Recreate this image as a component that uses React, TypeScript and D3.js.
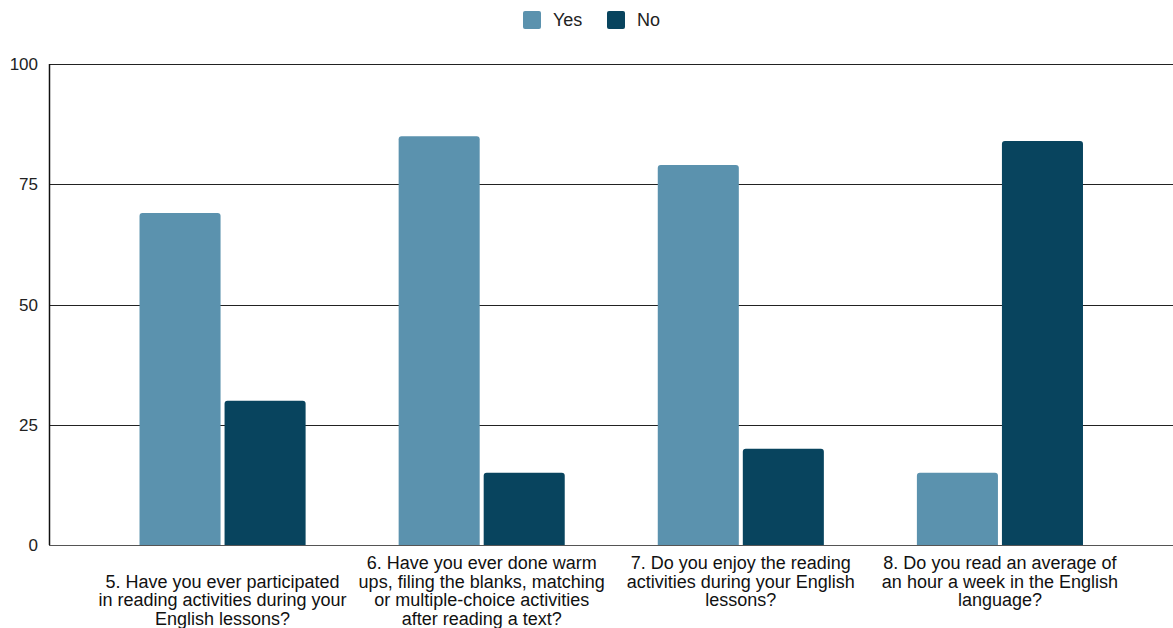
import React from "react";
import * as d3 from "d3";

const categories = ["Q5", "Q6", "Q7", "Q8"];
const labelLines: string[][] = [
  ["", "5. Have you ever participated", "in reading activities during your", "English lessons?"],
  ["6. Have you ever done warm", "ups, filing the blanks, matching", "or multiple-choice activities", "after reading a text?"],
  ["7. Do you enjoy the reading", "activities during your English", "lessons?"],
  ["8. Do you read an average of", "an hour a week in the English", "language?"],
];
const seriesNames = ["Yes", "No"];
const yesValues = [69, 85, 79, 15];
const noValues = [30, 15, 20, 84];
const yTicks = [0, 25, 50, 75, 100];
const colors = ["#5b92ae", "#08445e"];

const W = 1173;
const H = 628;
const plotLeft = 49;
const plotRight = 1173;
const plotTop = 64;
const plotBottom = 545;

function topRoundedRect(x: number, y: number, w: number, h: number, r: number) {
  const rr = Math.min(r, h, w / 2);
  return `M${x},${y + h}V${y + rr}Q${x},${y} ${x + rr},${y}H${x + w - rr}Q${x + w},${y} ${x + w},${y + rr}V${y + h}Z`;
}

export default function App() {
  const x0 = d3.scaleBand<string>().domain(categories).range([93, 1129.5]).paddingInner(0).paddingOuter(0);
  const x1 = d3.scaleBand<string>().domain(seriesNames).range([0, x0.bandwidth()]).paddingInner(0.047).paddingOuter(0.547);
  const y = d3.scaleLinear().domain([0, 100]).range([plotBottom, plotTop]);
  const values = [yesValues, noValues];
  const font = "Arial, 'Liberation Sans', Helvetica, sans-serif";

  return (
    <svg width={W} height={H} style={{ position: "absolute", left: 0, top: 0, background: "#fff" }} fontFamily={font}>
      <rect width={W} height={H} fill="#fff" />
      {/* legend */}
      {seriesNames.map((s, i) => {
        const lx = i === 0 ? 523 : 607;
        return (
          <g key={s}>
            <rect x={lx} y={11} width={18} height={18} rx={2} fill={colors[i]} />
            <text x={lx + 30} y={26} fontSize={18} fill="#222">{s}</text>
          </g>
        );
      })}
      {/* gridlines */}
      {yTicks.map((t) => (
        <g key={t}>
          <line x1={plotLeft} x2={plotRight} y1={Math.round(y(t)) + 0.5} y2={Math.round(y(t)) + 0.5} stroke={t === 0 ? "#555" : "#222"} strokeWidth={1.2} />
          <text x={38} y={y(t) + 6} fontSize={17} textAnchor="end" fill="#222">{t}</text>
        </g>
      ))}
      <line x1={plotLeft + 0.5} x2={plotLeft + 0.5} y1={plotTop} y2={plotBottom} stroke="#111" strokeWidth={1.5} />
      {/* bars */}
      {categories.map((c, ci) => (
        <g key={c} transform={`translate(${x0(c)},0)`}>
          {seriesNames.map((s, si) => {
            const v = values[si][ci];
            const bx = x1(s)!;
            const by = y(v);
            return <path key={s} d={topRoundedRect(bx, by, x1.bandwidth(), plotBottom - by, 3)} fill={colors[si]} />;
          })}
        </g>
      ))}
      {/* x labels */}
      {categories.map((c, ci) => (
        <text key={c} x={x0(c)! + x0.bandwidth() / 2} textAnchor="middle" fontSize={18} fill="#111">
          {labelLines[ci].map((ln, li) => (
            <tspan key={li} x={x0(c)! + x0.bandwidth() / 2} y={569 + li * 18.5}>{ln}</tspan>
          ))}
        </text>
      ))}
    </svg>
  );
}
